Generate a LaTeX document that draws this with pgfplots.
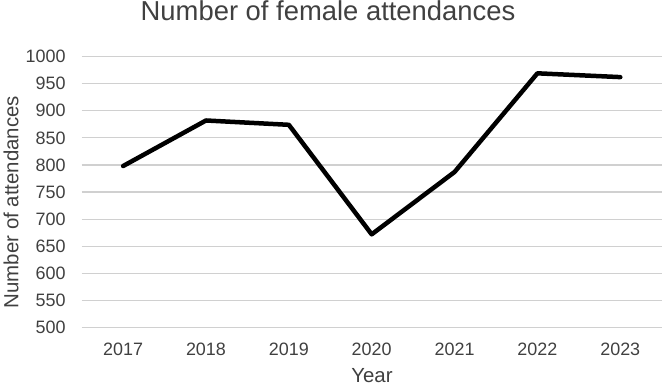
\documentclass[border=0pt]{standalone}
\usepackage{fontspec}
\setmainfont{Liberation Sans}
\usepackage{pgfplots}
\pgfplotsset{compat=1.18}
\definecolor{gridgray}{HTML}{D0D0D0}
\definecolor{txt}{HTML}{404040}
\begin{document}
\begin{tikzpicture}
\useasboundingbox (-81.7bp,-61.4bp) rectangle (582.3bp,327.6bp);
\begin{axis}[
  at={(0,0)}, anchor=south west,
  scale only axis, width=580bp, height=271.1bp,
  xmin=2016.5, xmax=2023.5, ymin=500, ymax=1000,
  xtick={2017,2018,...,2023}, ytick={500,550,...,1000},
  axis line style={draw=none}, major tick length=0pt,
  ymajorgrids, grid style={gridgray, line width=1.3bp},
  /pgf/number format/assume math mode=true,
  /pgf/number format/1000 sep={},
  tick label style={font=\fontsize{18}{18}\selectfont, text=txt, inner sep=0pt},
  xticklabel style={anchor=base, yshift=-27.4bp},
  yticklabel style={anchor=east, xshift=-16bp},
  title={Number of female attendances},
  title style={at={(axis description cs:0.4247,1.1099)}, anchor=base, yshift=0pt,
    font=\fontsize{27.5}{30}\selectfont, text=txt, inner sep=0pt},
  xlabel={Year}, ylabel={Number of attendances},
  label style={font=\fontsize{20.5}{22}\selectfont, text=txt, inner sep=0pt},
  xlabel style={at={(axis description cs:0.5005,-0.2018)}, anchor=base},
  ylabel style={at={(axis description cs:-0.1093,0.4633)}, anchor=base},
]
% yearly female attendances
\addplot[black, line width=4.5bp, line join=round, line cap=round] coordinates {
  (2017,798) (2018,882) (2019,874) (2020,672) (2021,787) (2022,969) (2023,962)
};
\end{axis}
\end{tikzpicture}
\end{document}
